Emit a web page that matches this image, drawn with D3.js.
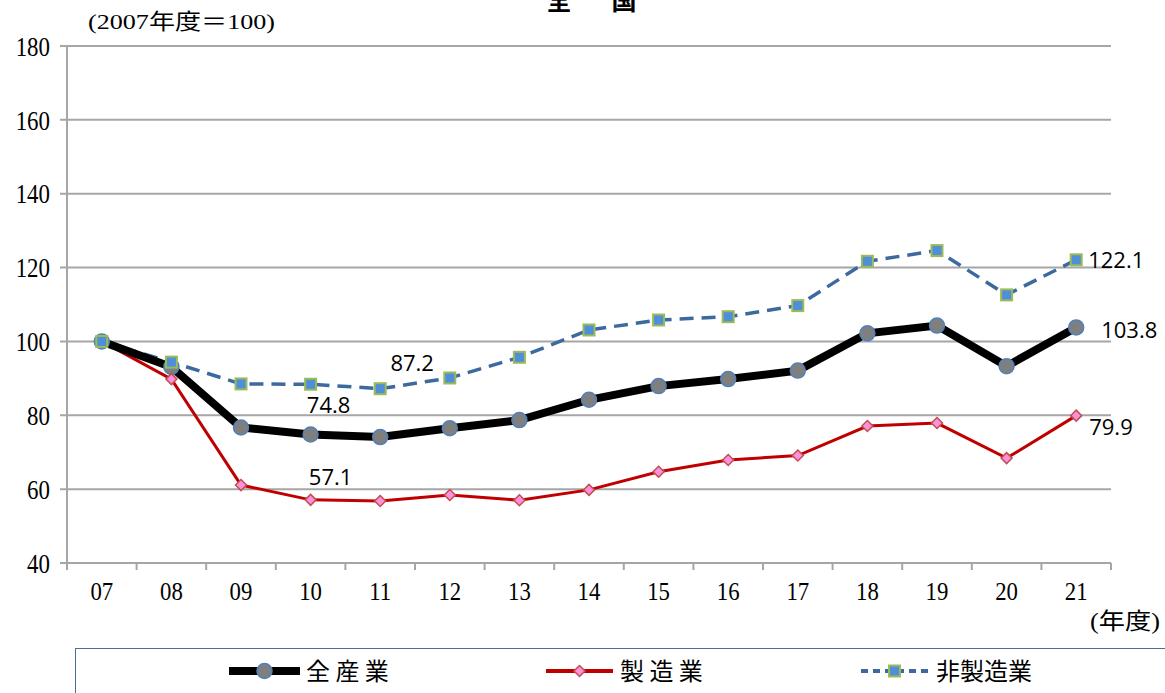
<!DOCTYPE html>
<html>
<head>
<meta charset="utf-8">
<script src="https://cdn.jsdelivr.net/npm/d3@7"></script>
<style>
  body { margin: 0; background: #fff; }
  svg { display: block; }
</style>
</head>
<body>
<div id="chart"></div>
<script>
// data (index, 2007 = 100)
const years = ["07", "08", "09", "10", "11", "12", "13", "14", "15", "16", "17", "18", "19", "20", "21"];
const allIndustry = [100, 93.1, 76.7, 74.8, 74.1, 76.5, 78.7, 84.2, 87.9, 89.8, 92.1, 102.2, 104.3, 93.3, 103.8];
const manufacturing = [100, 89.8, 61.1, 57.1, 56.8, 58.4, 57.0, 59.8, 64.7, 67.9, 69.1, 77.1, 77.9, 68.4, 79.9];
const nonManufacturing = [100, 94.4, 88.5, 88.4, 87.2, 90.1, 95.7, 103.1, 105.8, 106.7, 109.7, 121.7, 124.6, 112.6, 122.1];
const yTicks = [40, 60, 80, 100, 120, 140, 160, 180];
const seriesNames = ["全 産 業", "製 造 業", "非製造業"];

const width = 1165;
const height = 693;
const margin = { top: 46, right: 54, bottom: 130, left: 67 };

const svg = d3.select("#chart")
    .append("svg")
    .attr("width", width)
    .attr("height", height);

const x = d3.scaleBand()
    .domain(years)
    .range([margin.left, 1111]);

const y = d3.scaleLinear()
    .domain([40, 180])
    .range([563, margin.top]);

const cx = d => x(d) + x.bandwidth() / 2;

// gridlines
svg.append("g")
    .selectAll("line")
    .data(yTicks)
    .enter()
    .append("line")
    .attr("x1", 60)
    .attr("x2", 1111)
    .attr("y1", d => y(d))
    .attr("y2", d => y(d))
    .attr("stroke", "#a6a6a6")
    .attr("stroke-width", 2);

// y axis line
svg.append("line")
    .attr("x1", margin.left).attr("x2", margin.left)
    .attr("y1", y(180)).attr("y2", y(40))
    .attr("stroke", "#a6a6a6")
    .attr("stroke-width", 2);

// y labels
svg.append("g")
    .selectAll("text")
    .data(yTicks)
    .enter()
    .append("text")
    .attr("x", 50)
    .attr("y", d => y(d) + 9)
    .attr("text-anchor", "end")
    .style("font-family", "Liberation Serif, serif")
    .style("font-size", "26px")
    .attr("transform", d => `translate(50, ${y(d)}) scale(0.88, 1.08) translate(-50, ${-y(d)})`)
    .text(d => d);

// x axis ticks
const boundaries = years.map(d => x(d)).concat([x.range()[1]]);
svg.append("g")
    .selectAll("line")
    .data(boundaries)
    .enter()
    .append("line")
    .attr("x1", d => d).attr("x2", d => d)
    .attr("y1", 563).attr("y2", 570)
    .attr("stroke", "#a6a6a6")
    .attr("stroke-width", 2);

svg.append("g")
    .selectAll("text")
    .data(years)
    .enter()
    .append("text")
    .attr("x", d => cx(d))
    .attr("y", 600)
    .attr("text-anchor", "middle")
    .style("font-family", "Liberation Serif, serif")
    .style("font-size", "24px")
    .attr("transform", d => `translate(${cx(d)}, 600) scale(0.95, 1.08) translate(${-cx(d)}, -600)`)
    .text(d => d);

// unit labels
svg.append("text")
    .attr("x", 88)
    .attr("y", 29)
    .attr("textLength", 187)
    .attr("lengthAdjust", "spacingAndGlyphs")
    .style("font-family", "Liberation Serif, Noto Sans CJK JP, serif")
    .style("font-size", "22px")
    .text("(2007年度＝100)");

svg.append("text")
    .attr("x", 1090)
    .attr("y", 629)
    .attr("textLength", 70)
    .attr("lengthAdjust", "spacingAndGlyphs")
    .style("font-family", "Liberation Serif, Noto Sans CJK JP, serif")
    .style("font-size", "23px")
    .text("(年度)");

// title (cut at the top edge, as in the original)
svg.append("g")
    .selectAll("text")
    .data(["全", "国"])
    .enter()
    .append("text")
    .attr("x", (d, i) => 559 + i * 65)
    .attr("y", 10)
    .attr("text-anchor", "middle")
    .style("font-family", "Noto Sans CJK JP")
    .style("font-weight", "bold")
    .style("font-size", "25px")
    .text(d => d);

const line = d3.line()
    .x((d, i) => cx(years[i]))
    .y(d => y(d));

// non-manufacturing
svg.append("path")
    .datum(nonManufacturing)
    .attr("d", line)
    .attr("fill", "none")
    .attr("stroke", "#3c6a9e")
    .attr("stroke-width", 3.5)
    .attr("stroke-dasharray", "14,8");

// manufacturing
svg.append("path")
    .datum(manufacturing)
    .attr("d", line)
    .attr("fill", "none")
    .attr("stroke", "#c00000")
    .attr("stroke-width", 3);

// all industry
svg.append("path")
    .datum(allIndustry)
    .attr("d", line)
    .attr("fill", "none")
    .attr("stroke", "#000")
    .attr("stroke-width", 8);

function square(g, px, py) {
    g.append("rect")
        .attr("x", px - 5.5).attr("y", py - 5.5)
        .attr("width", 11).attr("height", 11)
        .attr("fill", "#4f8ed8")
        .attr("stroke", "#9bbb59")
        .attr("stroke-width", 2);
}
function diamond(g, px, py) {
    g.append("path")
        .attr("d", `M${px},${py - 5.5}L${px + 5.5},${py}L${px},${py + 5.5}L${px - 5.5},${py}Z`)
        .attr("fill", "#ff8fdf")
        .attr("stroke", "#c0504d")
        .attr("stroke-width", 1.5);
}
function circle(g, px, py) {
    g.append("circle")
        .attr("cx", px).attr("cy", py)
        .attr("r", 7.5)
        .attr("fill", "#7f7f7f")
        .attr("stroke", "#4f81bd")
        .attr("stroke-width", 1.5);
}

const markers = svg.append("g");
allIndustry.forEach((d, i) => circle(markers, cx(years[i]), y(d)));
manufacturing.forEach((d, i) => diamond(markers, cx(years[i]), y(d)));
nonManufacturing.forEach((d, i) => square(markers, cx(years[i]), y(d)));

// value labels
const labels = [
    { year: "10", value: allIndustry[3], dx: 18, dy: -21, anchor: "middle" },
    { year: "10", value: manufacturing[3], dx: 20, dy: -15, anchor: "middle" },
    { year: "11", value: nonManufacturing[4], dx: 32, dy: -18, anchor: "middle" },
    { year: "21", value: nonManufacturing[14], dx: 12, dy: 8, anchor: "start" },
    { year: "21", value: allIndustry[14], dx: 25, dy: 11, anchor: "start" },
    { year: "21", value: manufacturing[14], dx: 13, dy: 19, anchor: "start" }
];
svg.append("g")
    .selectAll("text")
    .data(labels)
    .enter()
    .append("text")
    .attr("x", d => cx(d.year) + d.dx)
    .attr("y", d => y(d.value) + d.dy)
    .attr("text-anchor", d => d.anchor)
    .style("font-family", "Open Sans, sans-serif")
    .style("font-size", "22px")
    .text(d => d.value.toFixed(1));

// legend
svg.append("rect")
    .attr("x", 75.5)
    .attr("y", 648.5)
    .attr("width", 1100)
    .attr("height", 60)
    .attr("fill", "none")
    .attr("stroke", "#4a6d9c")
    .attr("stroke-width", 1);

const legendItems = [
    { name: seriesNames[0], x0: 229, x1: 300, color: "#000", w: 8, dash: null, mark: circle, tx: 306 },
    { name: seriesNames[1], x0: 546, x1: 613, color: "#c00000", w: 4, dash: null, mark: diamond, tx: 620 },
    { name: seriesNames[2], x0: 861, x1: 928, color: "#3c6a9e", w: 4, dash: "7,5", mark: square, tx: 936 }
];
const legendY = 671;
legendItems.forEach(item => {
    svg.append("line")
        .attr("x1", item.x0).attr("x2", item.x1)
        .attr("y1", legendY).attr("y2", legendY)
        .attr("stroke", item.color)
        .attr("stroke-width", item.w)
        .attr("stroke-dasharray", item.dash);
    item.mark(svg, (item.x0 + item.x1) / 2, legendY);
    svg.append("text")
        .attr("x", item.tx)
        .attr("y", legendY + 9)
        .style("font-family", "Noto Sans CJK JP")
        .style("font-size", "24px")
        .text(item.name);
});
</script>
</body>
</html>
